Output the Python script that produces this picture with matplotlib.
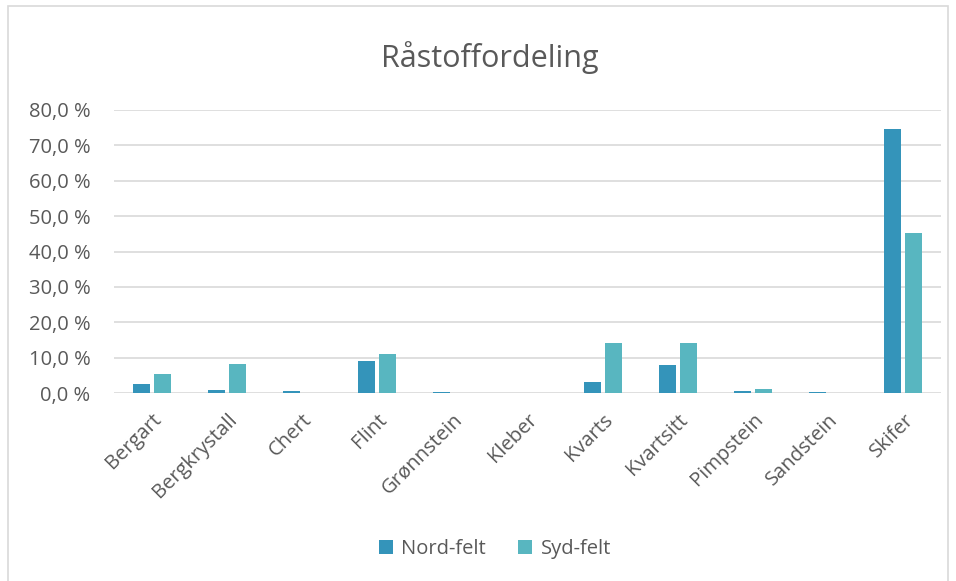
import matplotlib
matplotlib.use("Agg")
import matplotlib.pyplot as plt
import numpy as np
from matplotlib.patches import Rectangle
from matplotlib.ticker import FuncFormatter

plt.rcParams["font.family"] = ["Open Sans", "DejaVu Sans"]

categories = ["Bergart", "Bergkrystall", "Chert", "Flint", "Grønnstein", "Kleber",
              "Kvarts", "Kvartsitt", "Pimpstein", "Sandstein", "Skifer"]
nord = [2.5, 0.9, 0.5, 9.0, 0.3, 0.0, 3.0, 7.8, 0.7, 0.3, 74.7]
syd = [5.5, 8.3, 0.0, 10.9, 0.0, 0.0, 14.0, 14.2, 1.1, 0.0, 45.2]
series = ["Nord-felt", "Syd-felt"]
yticks = [0, 10, 20, 30, 40, 50, 60, 70, 80]

text_col = "#595959"
grid_col = "#d9d9d9"
colors = ["#3494ba", "#58b6c0"]

fig = plt.figure(figsize=(9.56, 5.81), dpi=100)
fig.patches.append(Rectangle((8 / 956, -0.01), 940 / 956, 1.0, transform=fig.transFigure,
                             fill=False, edgecolor="#d9d9d9", linewidth=1.2))
ax = fig.add_axes([114 / 956, 1 - 393 / 581, 827 / 956, 283 / 581])

x = np.arange(len(categories))
w = 0.226
ax.bar(x - 0.14, nord, w, color=colors[0], label=series[0], zorder=3)
ax.bar(x + 0.14, syd, w, color=colors[1], label=series[1], zorder=3)

ax.set_xlim(-0.5, len(categories) - 0.5)
ax.set_ylim(0, 80)
ax.set_yticks(yticks)
ax.yaxis.set_major_formatter(FuncFormatter(lambda v, p: f"{v:.1f} %".replace(".", ",")))
ax.grid(axis="y", color=grid_col, linewidth=1.2, zorder=0)
for s in ax.spines.values():
    s.set_visible(False)
ax.tick_params(axis="both", length=0, labelsize=14.5, labelcolor=text_col)
ax.tick_params(axis="y", pad=17)
ax.set_xticks(x)
ax.set_xticklabels(categories, rotation=45, ha="right", rotation_mode="anchor")
ax.tick_params(axis="x", pad=12)

fig.text(0.512, 1 - 58 / 581, "Råstoffordeling", ha="center", va="center",
         fontsize=22, color=text_col)
fig.legend(loc="center", bbox_to_anchor=(495 / 956, 1 - 549 / 581), ncol=2, frameon=False,
           fontsize=14.5, labelcolor=text_col, handlelength=0.7, handleheight=0.7,
           handletextpad=0.4, columnspacing=1.6)

fig.savefig("out.png", dpi=100)
